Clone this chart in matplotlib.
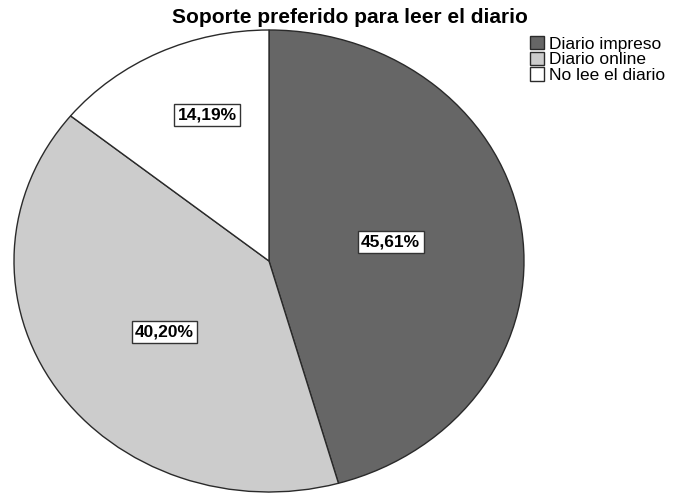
import matplotlib

matplotlib.use("Agg")
import matplotlib.pyplot as plt
import numpy as np

plt.rcParams["font.family"] = ["Liberation Sans", "DejaVu Sans"]

# data
categories = ["Diario impreso", "Diario online", "No lee el diario"]
percentages = [45.61, 40.20, 14.19]
colors = ["#666666", "#cccccc", "#ffffff"]

# label placement: distance from centre and small angle nudge (deg)
label_dist = [0.484, 0.512, 0.677]
label_nudge = [2.0, 3.4, -4.6]

fig = plt.figure(figsize=(6.78, 4.93), dpi=100)
# pie is drawn as an ellipse: axes box wider than it is tall, aspect auto
ax = fig.add_axes([14 / 678, 1 / 493, 510 / 678, 462 / 493])

wedges, _ = ax.pie(
    percentages,
    colors=colors,
    startangle=90,
    counterclock=False,
    radius=1.0,
    wedgeprops=dict(edgecolor="#2a2a2a", linewidth=1.0),
)
ax.set_aspect("auto")
ax.set_xlim(-1.0, 1.0)
ax.set_ylim(-1.0, 1.0)

for w, pct, d, nudge in zip(wedges, percentages, label_dist, label_nudge):
    mid = np.deg2rad((w.theta1 + w.theta2) / 2 + nudge)
    ax.text(
        d * np.cos(mid), d * np.sin(mid),
        f"{pct:.2f}%".replace(".", ","),
        ha="center", va="center", fontsize=12.5, fontweight="bold",
        bbox=dict(boxstyle="square,pad=0.2", facecolor="white",
                  edgecolor="#333333", linewidth=1.0),
    )

fig.text(0.516, 0.964, "Soporte preferido para leer el diario",
         ha="center", va="center", fontsize=15, fontweight="bold")

fig.legend(
    wedges, categories,
    loc="upper left", bbox_to_anchor=(0.782, 0.927),
    frameon=False, fontsize=12.5,
    handlelength=0.8, handleheight=0.8, handletextpad=0.3,
    labelspacing=0.0, borderpad=0.0, borderaxespad=0.0,
)

fig.savefig("out.png", dpi=100)
